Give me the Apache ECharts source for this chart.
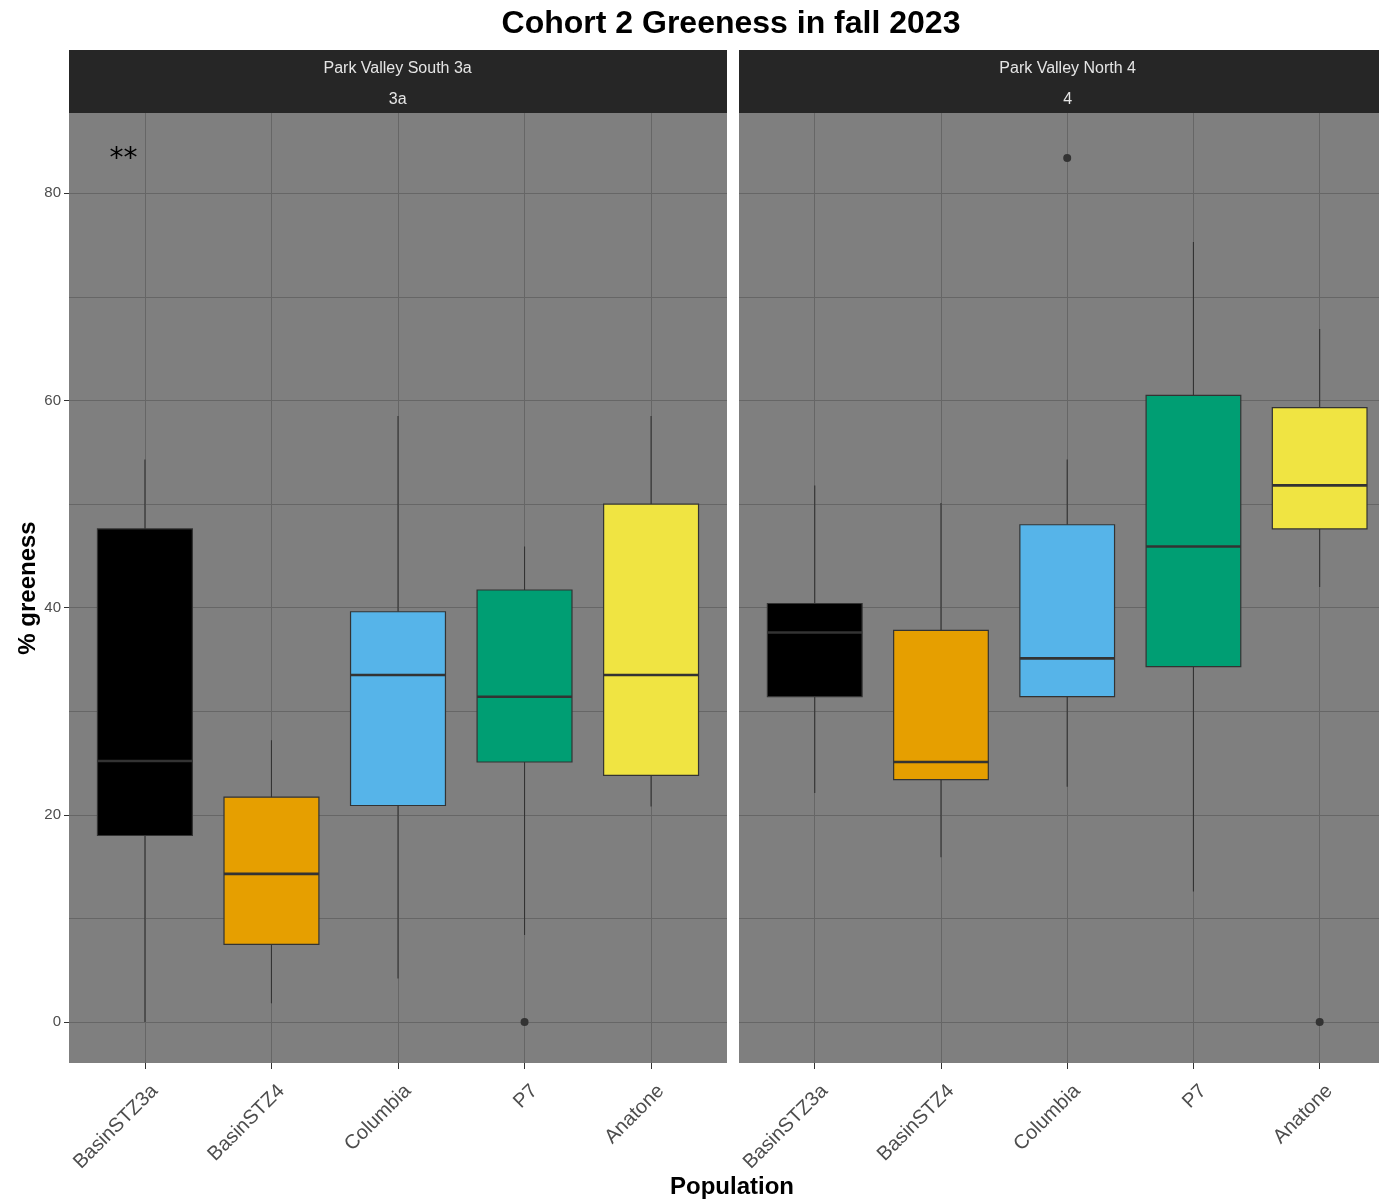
<!DOCTYPE html>
<html>
<head>
<meta charset="utf-8">
<title>Cohort 2 Greeness in fall 2023</title>
<script src="https://cdn.jsdelivr.net/npm/echarts@6/dist/echarts.min.js"></script>
<style>
  html, body { margin: 0; padding: 0; background: #ffffff; }
  #chart { width: 1379px; height: 1204px; }
</style>
</head>
<body>
<div id="chart"></div>
<script>
// Populations on the x axis (same order in both sites)
const categories = ['BasinSTZ3a', 'BasinSTZ4', 'Columbia', 'P7', 'Anatone'];
const fillColors = ['#000000', '#E69F00', '#56B4E9', '#009E73', '#F0E442'];

// Facet strips: site name and zone
const siteNames = ['Park Valley South 3a', 'Park Valley North 4'];
const siteZones = ['3a', '4'];

// Box statistics per population: [lower whisker, Q1, median, Q3, upper whisker]
const southStats = [
  [0.0, 18.0, 25.2, 47.6, 54.3],
  [1.8, 7.5, 14.3, 21.7, 27.2],
  [4.2, 20.9, 33.5, 39.6, 58.5],
  [8.4, 25.1, 31.4, 41.7, 45.9],
  [20.8, 23.8, 33.5, 50.0, 58.5]
];
const northStats = [
  [22.1, 31.4, 37.6, 40.4, 51.8],
  [15.9, 23.4, 25.1, 37.8, 50.1],
  [22.7, 31.4, 35.1, 48.0, 54.3],
  [12.6, 34.3, 45.9, 60.5, 75.3],
  [42.0, 47.6, 51.8, 59.3, 66.9]
];

// Outlying points: [population, % greeness]
const southOutliers = [['P7', 0]];
const northOutliers = [['Columbia', 83.4], ['Anatone', 0]];

// Significance marker in the first facet: [x position, y position, text]
const southAnnotation = [[0.83, 83.2, '**']];

// Axis ticks
const yMajorTicks = [0, 20, 40, 60, 80];
const yMinorTicks = [10, 30, 50, 70];
const xTicks = [1, 2, 3, 4, 5];

const FONT = '"Liberation Sans", Arial, sans-serif';
const GRID_LINE = '#666666';
const INK = '#333333';

function toBoxRows(stats) {
  return stats.map((s, i) => [i + 1].concat(s));
}
function toPoints(list) {
  return list.map(p => [categories.indexOf(p[0]) + 1, p[1]]);
}

function renderBox(params, api) {
  const x = api.value(0);
  const lo = api.value(1), q1 = api.value(2), med = api.value(3), q3 = api.value(4), hi = api.value(5);
  const half = 0.375;
  const pLo = api.coord([x, lo]);
  const pQ1 = api.coord([x, q1]);
  const pMed = api.coord([x, med]);
  const pQ3 = api.coord([x, q3]);
  const pHi = api.coord([x, hi]);
  const left = api.coord([x - half, q1])[0];
  const right = api.coord([x + half, q1])[0];
  return {
    type: 'group',
    children: [
      { type: 'line', shape: { x1: pHi[0], y1: pHi[1], x2: pQ3[0], y2: pQ3[1] }, style: { stroke: INK, lineWidth: 1.1 } },
      { type: 'line', shape: { x1: pQ1[0], y1: pQ1[1], x2: pLo[0], y2: pLo[1] }, style: { stroke: INK, lineWidth: 1.1 } },
      { type: 'rect', shape: { x: left, y: pQ3[1], width: right - left, height: pQ1[1] - pQ3[1] },
        style: { fill: fillColors[params.dataIndex], stroke: INK, lineWidth: 1.2 } },
      { type: 'line', shape: { x1: left, y1: pMed[1], x2: right, y2: pMed[1] }, style: { stroke: INK, lineWidth: 2.6 } }
    ]
  };
}

function renderNote(params, api) {
  const p = api.coord([api.value(0), api.value(1)]);
  return {
    type: 'text', x: p[0], y: p[1],
    style: {
      text: southAnnotation[params.dataIndex][2], fill: '#000000',
      font: '28px "DejaVu Sans", sans-serif', align: 'center', verticalAlign: 'middle'
    }
  };
}

const Y_MIN = -3.96, Y_MAX = 87.75;

// Both facets share the same x scale; the right facet runs off the page edge
const panels = [
  { left: 69, width: 658, xMax: 5.6 },
  { left: 739, width: 640, xMax: 5.47 }
];
const PANEL_TOP = 113, PANEL_H = 950, STRIP_TOP = 50;

function xAxisFor(gridIndex) {
  return {
    type: 'value', gridIndex: gridIndex, min: 0.4, max: panels[gridIndex].xMax,
    axisLine: { show: false, onZero: false },
    axisTick: { show: true, length: 6, customValues: xTicks, lineStyle: { color: INK, width: 1 } },
    axisLabel: {
      customValues: xTicks, rotate: 45, margin: 15,
      align: 'right', verticalAlign: 'top', padding: [4, 0, 0, 0],
      fontFamily: FONT, fontSize: 20, color: '#4d4d4d',
      formatter: v => categories[Math.round(v) - 1] || ''
    },
    splitLine: { show: true, lineStyle: { color: GRID_LINE, width: 1 } }
  };
}

function yAxesFor(gridIndex, showLabels) {
  return [
    {
      type: 'value', gridIndex: gridIndex, min: Y_MIN, max: Y_MAX, position: 'left',
      axisLine: { show: false, onZero: false },
      axisTick: { show: showLabels, length: 5, customValues: yMajorTicks, lineStyle: { color: INK, width: 1 } },
      axisLabel: { show: showLabels, customValues: yMajorTicks, margin: 8, fontFamily: FONT, fontSize: 15, color: '#4d4d4d' },
      splitLine: { show: true, lineStyle: { color: GRID_LINE, width: 1 } },
      name: showLabels ? '% greeness' : '',
      nameLocation: 'middle', nameRotate: 90, nameGap: 29,
      nameTextStyle: { fontFamily: FONT, fontSize: 24, fontWeight: 'bold', color: '#000000' }
    },
    {
      type: 'value', gridIndex: gridIndex, min: Y_MIN, max: Y_MAX, position: 'right',
      axisLine: { show: false, onZero: false },
      axisTick: { show: false, customValues: yMinorTicks },
      axisLabel: { show: false, customValues: yMinorTicks },
      splitLine: { show: true, lineStyle: { color: GRID_LINE, width: 1 } }
    }
  ];
}

const decor = [];
panels.forEach((p, i) => {
  decor.push({
    type: 'rect', left: p.left, top: STRIP_TOP,
    shape: { width: p.width, height: PANEL_TOP - STRIP_TOP },
    style: { fill: '#262626' }, silent: true
  });
  const cx = 69 + 670 * i + (5.2 * 126.4) / 2;
  decor.push({
    type: 'text', x: cx, y: 69,
    style: { text: siteNames[i], fill: '#e5e5e5', font: '16px ' + FONT, align: 'center', verticalAlign: 'middle' }
  });
  decor.push({
    type: 'text', x: cx, y: 100,
    style: { text: siteZones[i], fill: '#e5e5e5', font: '16px ' + FONT, align: 'center', verticalAlign: 'middle' }
  });
});
decor.push({
  type: 'text', x: 731, y: 24,
  style: { text: 'Cohort 2 Greeness in fall 2023', fill: '#000000', font: 'bold 32px ' + FONT, align: 'center', verticalAlign: 'middle' }
});
decor.push({
  type: 'text', x: 732, y: 1187,
  style: { text: 'Population', fill: '#000000', font: 'bold 24px ' + FONT, align: 'center', verticalAlign: 'middle' }
});

const chart = echarts.init(document.getElementById('chart'), null, { renderer: 'canvas' });

const option = {
  backgroundColor: '#ffffff',
  animation: false,
  grid: panels.map(p => ({
    left: p.left, top: PANEL_TOP, width: p.width, height: PANEL_H,
    show: true, backgroundColor: '#7f7f7f', borderWidth: 0
  })),
  xAxis: [xAxisFor(0), xAxisFor(1)],
  yAxis: yAxesFor(0, true).concat(yAxesFor(1, false)),
  graphic: decor,
  series: [
    {
      type: 'custom', name: 'Park Valley South 3a', xAxisIndex: 0, yAxisIndex: 0,
      renderItem: renderBox, encode: { x: 0, y: [1, 2, 3, 4, 5] },
      data: toBoxRows(southStats), z: 3
    },
    {
      type: 'custom', name: 'Park Valley North 4', xAxisIndex: 1, yAxisIndex: 2,
      renderItem: renderBox, encode: { x: 0, y: [1, 2, 3, 4, 5] },
      data: toBoxRows(northStats), z: 3
    },
    {
      type: 'scatter', xAxisIndex: 0, yAxisIndex: 0, symbolSize: 8,
      itemStyle: { color: INK, opacity: 1 }, data: toPoints(southOutliers), z: 4
    },
    {
      type: 'scatter', xAxisIndex: 1, yAxisIndex: 2, symbolSize: 8,
      itemStyle: { color: INK, opacity: 1 }, data: toPoints(northOutliers), z: 4
    },
    {
      type: 'custom', xAxisIndex: 0, yAxisIndex: 0,
      renderItem: renderNote, encode: { x: 0, y: 1 },
      data: southAnnotation.map(a => [a[0], a[1]]), z: 5
    }
  ]
};

chart.setOption(option);
</script>
</body>
</html>
